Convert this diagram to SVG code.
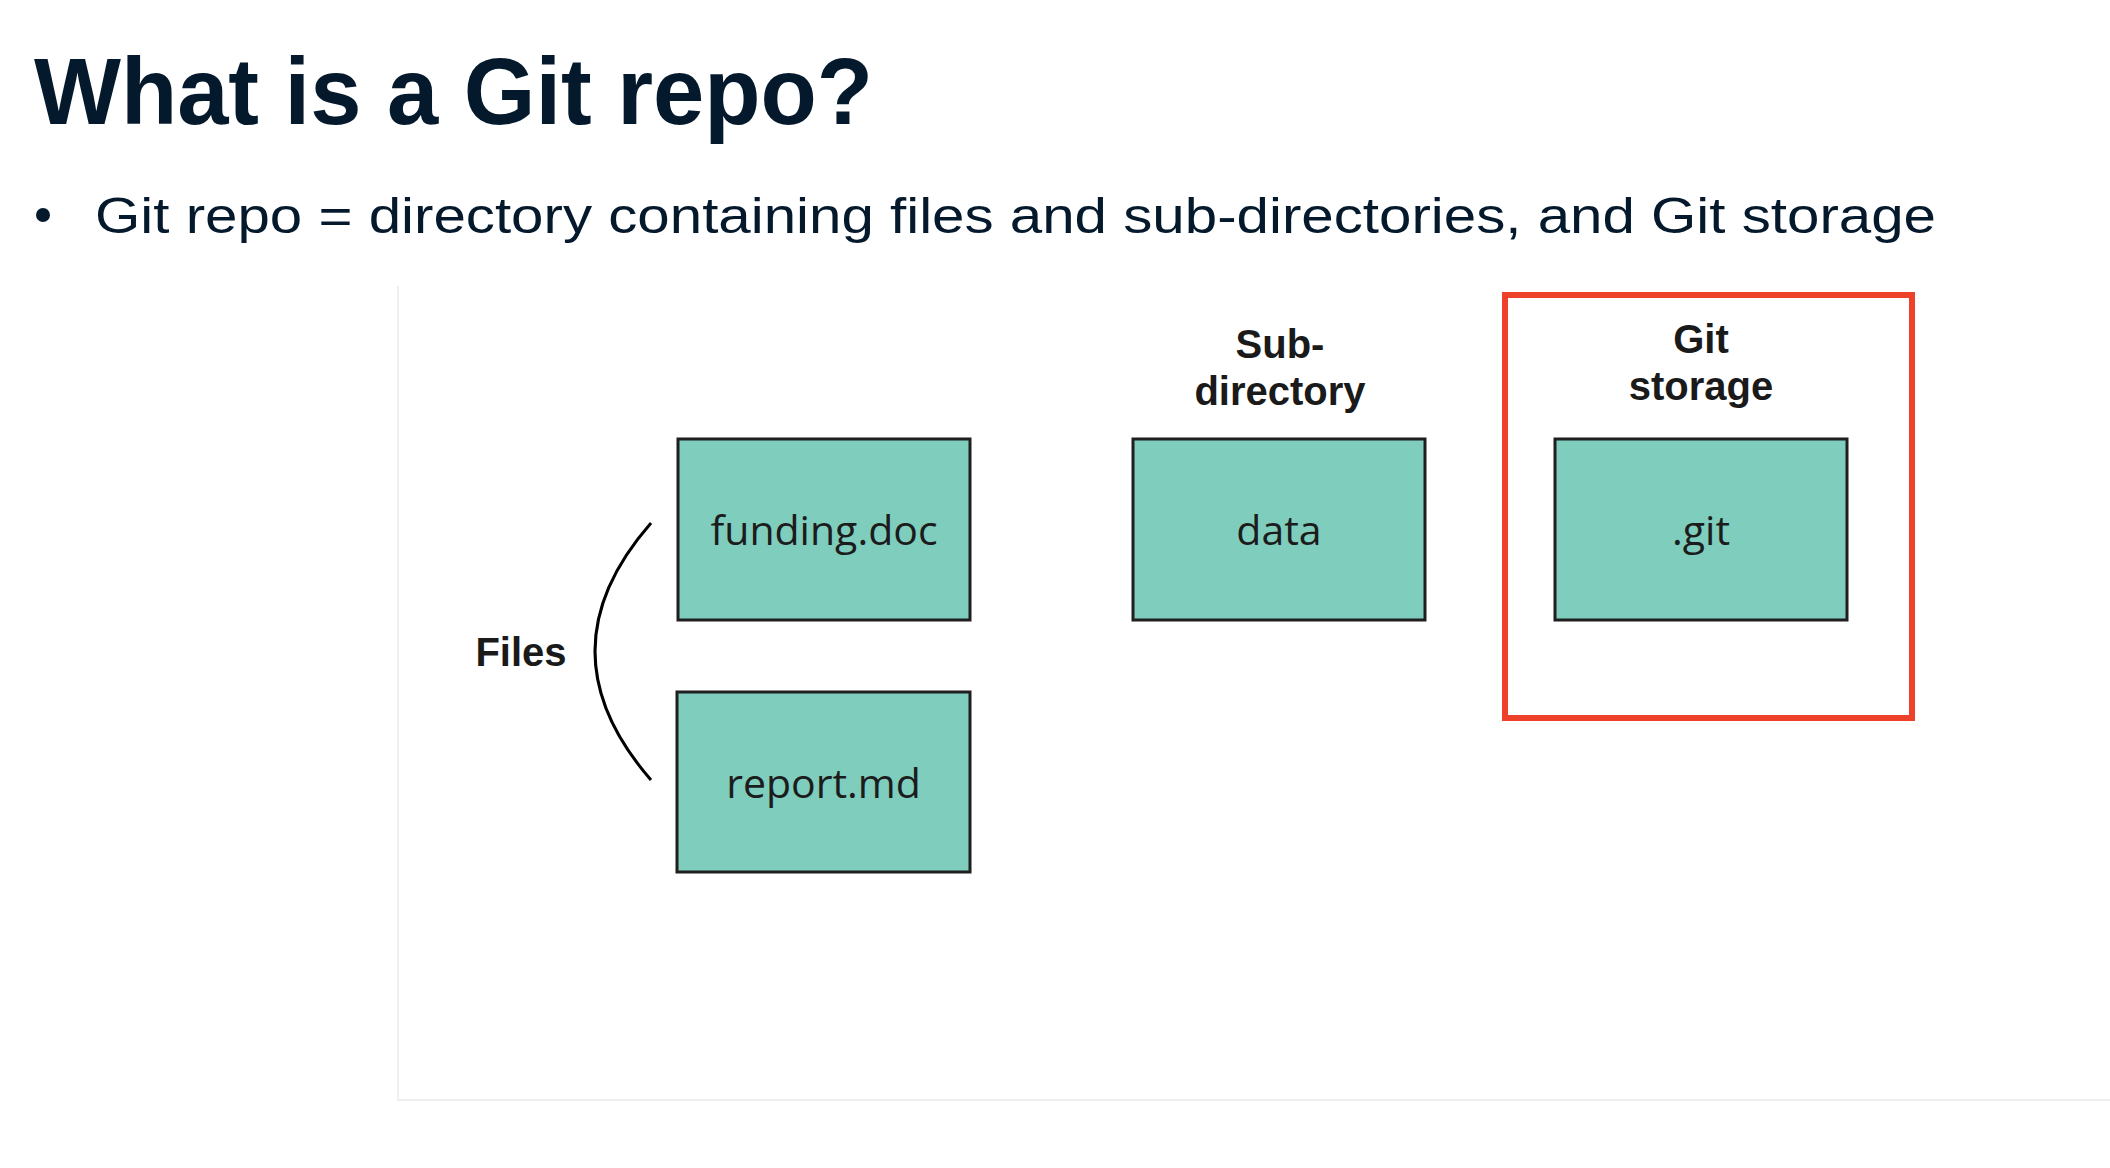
<svg xmlns="http://www.w3.org/2000/svg" width="2110" height="1168" viewBox="0 0 2110 1168">
<style>
.title{font-family:"Liberation Sans",Arial,sans-serif;font-weight:bold;font-size:95px;fill:#05192D}
.bullet{font-family:"Liberation Sans",Arial,sans-serif;font-size:50px;fill:#05192D}
.lbl{font-family:"Liberation Sans",Arial,sans-serif;font-weight:bold;font-size:40px;fill:#1a1a1a;text-anchor:middle}
.box rect{fill:#7ECDBD;stroke:#1f1f1f;stroke-width:3}
.box text{font-family:"Open Sans","Noto Sans",sans-serif;font-size:41px;fill:#1c1c1c;text-anchor:middle}
</style>
<rect x="0" y="0" width="2110" height="1168" fill="#ffffff"/>
<text class="title" x="34" y="124" textLength="839" lengthAdjust="spacingAndGlyphs">What is a Git repo?</text>
<circle cx="43" cy="215" r="7" fill="#05192D"/>
<text class="bullet" x="95" y="233" textLength="1841" lengthAdjust="spacingAndGlyphs">Git repo = directory containing files and sub-directories, and Git storage</text>
<g id="panel">
<path d="M398 286 V1100 H2110" fill="none" stroke="#efefef" stroke-width="2"/>
</g>
<g id="git-storage-frame">
<rect x="1505" y="295" width="407" height="423" fill="none" stroke="#EE4129" stroke-width="6"/>
<text class="lbl" x="1701" y="353">Git</text>
<text class="lbl" x="1701" y="400">storage</text>
</g>
<g id="subdir-label">
<text class="lbl" x="1280" y="358">Sub-</text>
<text class="lbl" x="1280" y="405">directory</text>
</g>
<g id="files-label">
<text class="lbl" x="521" y="666">Files</text>
</g>
<g id="funding" class="box">
<rect x="678" y="439" width="292" height="181"/>
<text x="824" y="545">funding.doc</text>
</g>
<g id="report" class="box">
<rect x="677" y="692" width="293" height="180"/>
<text x="823.5" y="798">report.md</text>
</g>
<g id="data" class="box">
<rect x="1133" y="439" width="292" height="181"/>
<text x="1279" y="545">data</text>
</g>
<g id="git" class="box">
<rect x="1555" y="439" width="292" height="181"/>
<text x="1701" y="545">.git</text>
</g>
<g id="connectors">
<path d="M651 523 Q539 651 651 780" fill="none" stroke="#000" stroke-width="3"/>
</g>
</svg>
